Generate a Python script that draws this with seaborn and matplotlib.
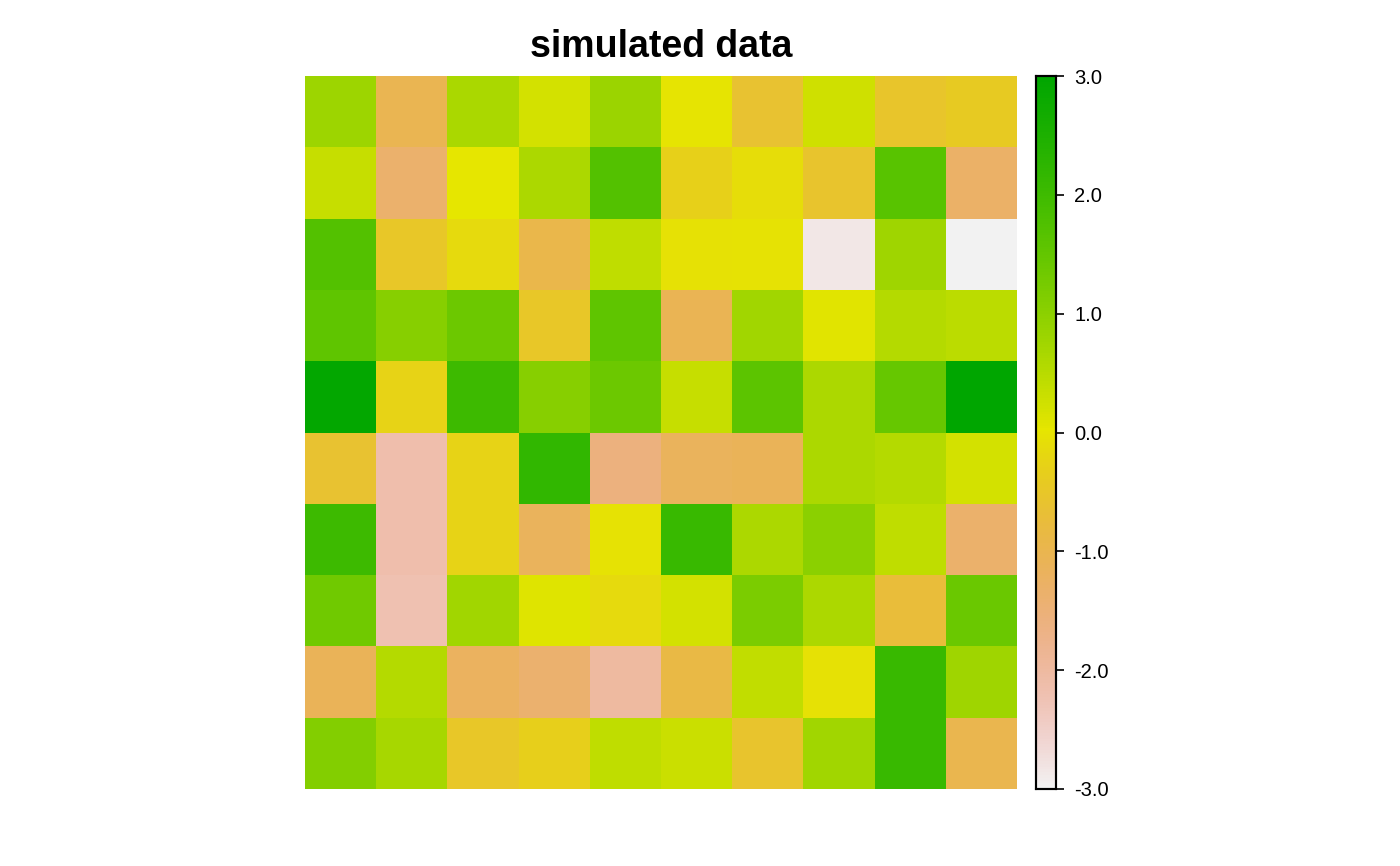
"""
Simulated raster grid, terrain palette
"""

import colorsys
import matplotlib
matplotlib.use("Agg")
import matplotlib.pyplot as plt
import matplotlib.ticker as mticker
from matplotlib.colors import ListedColormap
import numpy as np
import seaborn as sns

sns.set_theme(style="white")
plt.rcParams["font.family"] = ["Liberation Sans", "DejaVu Sans"]
plt.rcParams["text.color"] = "black"

# ── data: 10 x 10 cells, top row first ───────────────────────────────────────
row_01 = [0.79, -1.03, 0.67, 0.21, 0.83, 0.00, -0.62, 0.27, -0.55, -0.42]
row_02 = [0.35, -1.37, 0.02, 0.63, 1.72, -0.30, -0.10, -0.57, 1.64, -1.30]
row_03 = [1.72, -0.50, -0.15, -0.95, 0.43, -0.04, -0.02, -2.85, 0.77, -3.00]
row_04 = [1.56, 1.05, 1.38, -0.50, 1.56, -1.05, 0.75, 0.08, 0.55, 0.47]
row_05 = [2.95, -0.25, 2.03, 1.05, 1.38, 0.35, 1.60, 0.64, 1.47, 3.00]
row_06 = [-0.62, -2.14, -0.25, 2.18, -1.58, -1.16, -1.10, 0.64, 0.55, 0.20]
row_07 = [2.03, -2.14, -0.25, -1.15, -0.02, 2.10, 0.64, 1.00, 0.43, -1.35]
row_08 = [1.35, -2.20, 0.75, 0.10, -0.15, 0.20, 1.20, 0.64, -0.72, 1.40]
row_09 = [-1.10, 0.55, -1.20, -1.38, -2.00, -0.88, 0.40, -0.05, 2.10, 0.77]
row_10 = [1.10, 0.69, -0.50, -0.32, 0.43, 0.30, -0.57, 0.75, 2.10, -0.98]

grid = np.array([row_01, row_02, row_03, row_04, row_05,
                 row_06, row_07, row_08, row_09, row_10])

cbar_ticks = [-3.0, -2.0, -1.0, 0.0, 1.0, 2.0, 3.0]

# ── palette: reversed R terrain.colors(255) ──────────────────────────────────
def terrain_colors(n):
    k = n // 2
    cols = []
    hh = np.linspace(4 / 12, 2 / 12, k)
    ss = np.linspace(1, 1, k)
    vv = np.linspace(0.65, 0.9, k)
    cols += [colorsys.hsv_to_rgb(h, s, v) for h, s, v in zip(hh, ss, vv)]
    hh = np.linspace(2 / 12, 0, n - k + 1)[1:]
    ss = np.linspace(1, 0, n - k + 1)[1:]
    vv = np.linspace(0.9, 0.95, n - k + 1)[1:]
    cols += [colorsys.hsv_to_rgb(h, s, v) for h, s, v in zip(hh, ss, vv)]
    return cols

cmap = ListedColormap(terrain_colors(255)[::-1])

# ── figure ───────────────────────────────────────────────────────────────────
W, H = 1400, 866
fig = plt.figure(figsize=(W / 100, H / 100), dpi=100)
ax = fig.add_axes([305 / W, (H - 789) / H, 712 / W, 713 / H])
cax = fig.add_axes([1036 / W, (H - 789) / H, 20 / W, 713 / H])

sns.heatmap(grid, cmap=cmap, vmin=-3, vmax=3, ax=ax, cbar_ax=cax,
            xticklabels=False, yticklabels=False, linewidths=0)
ax.set_axis_off()
ax.set_title("simulated data", fontsize=27, fontweight="bold", pad=14,
             color="black")

cax.yaxis.set_major_locator(mticker.FixedLocator(cbar_ticks))
cax.yaxis.set_major_formatter(mticker.FormatStrFormatter("%.1f"))
cax.tick_params(axis="y", right=True, left=False, length=6, width=1.2,
                direction="out", color="black", labelsize=14.5,
                labelcolor="black", pad=7)
for sp in cax.spines.values():
    sp.set_visible(True)
    sp.set_color("black")
    sp.set_linewidth(1.5)

plt.savefig("out.png", dpi=100)
plt.close()
